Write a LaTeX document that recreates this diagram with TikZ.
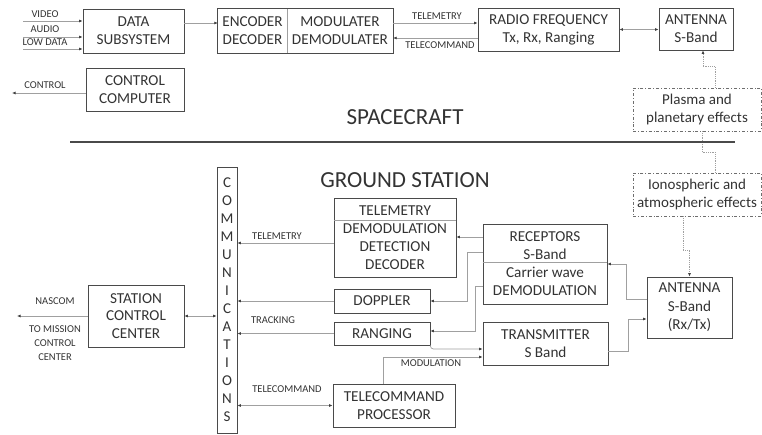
\documentclass[tikz,border=0pt]{standalone}
\usepackage{fontspec}
\setmainfont{Carlito}
\usetikzlibrary{arrows.meta}
\definecolor{txtgray}{HTML}{333333}
\definecolor{boxgray}{HTML}{4A4A4A}
\definecolor{linegray}{HTML}{A0A0A0}
\tikzset{
        box/.style={draw=boxgray, line width=0.8pt, inner sep=0pt, align=center, text=txtgray,
                font=\fontsize{15.2}{18}\selectfont},
        plain/.style={inner sep=0pt, align=center, text=txtgray, font=\fontsize{15.2}{18}\selectfont},
        lbl/.style={inner sep=0pt, align=center, text=txtgray, font=\fontsize{10.5}{14}\selectfont},
        conn/.style={draw=linegray, line width=0.7pt},
        tip/.style={-{Latex[length=3.5pt,width=3pt,color=black!75]}},
        bitip/.style={{Latex[length=3.5pt,width=3pt,color=black!75]}-{Latex[length=3.5pt,width=3pt,color=black!75]}},
        dotconn/.style={draw=linegray, line width=0.8pt, densely dotted},
        effect/.style={draw=boxgray!80, line width=0.6pt, dash pattern=on 3pt off 2pt on 0.8pt off 2pt,
                inner sep=0pt, align=center, text=txtgray, font=\fontsize{15}{18.5}\selectfont},
        divline/.style={draw=linegray, line width=0.6pt},
        heading/.style={inner sep=0pt, text=txtgray, font=\fontsize{23}{27}\selectfont}
}
\begin{document}
\begin{tikzpicture}[x=1pt, y=-1pt]
        \useasboundingbox (0,0) rectangle (762,435);
        % spacecraft
        \node[box, minimum width=101, minimum height=44] (datasub) at (133.5,31) {DATA\\SUBSYSTEM};
        \node[box, minimum width=98, minimum height=43] (ctrlcomp) at (135,89.5) {CONTROL\\COMPUTER};
        \node[plain, minimum width=69, minimum height=44] (enc) at (252.5,31) {ENCODER\\DECODER};
        \node[plain, minimum width=106, minimum height=44] (mod) at (340,31) {MODULATER\\DEMODULATER};
        \draw[boxgray, line width=0.8pt] (enc.north west) rectangle (mod.south east);
        \draw[divline] (enc.north east) -- (enc.south east);
        \node[box, minimum width=141, minimum height=43] (rf) at (548.5,29.5) {RADIO FREQUENCY\\Tx, Rx, Ranging};
        \node[box, minimum width=74, minimum height=42] (antsc) at (696,29) {ANTENNA\\S-Band};
        \node[effect, minimum width=128, minimum height=43] (plasma) at (697,109.5) {Plasma and\\planetary effects};
        \node[effect, minimum width=128, minimum height=43] (iono) at (697,194.5) {Ionospheric and\\atmospheric effects};

        \coordinate (vin) at (23,21);
        \coordinate (ain) at (23,37);
        \coordinate (lin) at (23,49);
        \coordinate (ctrlout) at (12,93);
        \draw[conn, tip] (vin) -- (vin -| datasub.west);
        \draw[conn, tip] (ain) -- (ain -| datasub.west);
        \draw[conn, tip] (lin) -- (lin -| datasub.west);
        \node[lbl] at (45,14) {VIDEO};
        \node[lbl, fill=white, inner sep=1pt] at (45,29) {AUDIO};
        \node[lbl, fill=white, inner sep=1pt] at (45,42) {LOW DATA};
        \draw[conn, tip] ([yshift=-3.5pt]ctrlcomp.west) -- (ctrlout);
        \node[lbl] at (45,85) {CONTROL};

        \draw[conn, tip] ([yshift=8pt]datasub.east) -- ([yshift=8pt]datasub.east -| enc.west);
        \draw[conn, tip] ([yshift=8pt]mod.east) -- ([yshift=8pt]mod.east -| rf.west);
        \draw[conn, tip] ([yshift=-7pt]mod.east -| rf.west) -- ([yshift=-7pt]mod.east);
        \node[lbl] at (437,16) {TELEMETRY};
        \node[lbl] at (440,45) {TELECOMMAND};
        \draw[conn, bitip] (rf.east) -- (rf.east -| antsc.west);

        \draw[dotconn, tip] ([xshift=18pt]plasma.north) -- ++(0,-21) -| ([xshift=7pt]antsc.south);
        \draw[dotconn] ([xshift=5pt]plasma.south) -- ++(0,21) -| ([xshift=18pt]iono.north);

        \coordinate (sepl) at (70,142);
        \coordinate (sepr) at (735,142);
        \draw[boxgray, line width=2.6pt] (sepl) -- (sepr);
        \node[heading] (sctitle) at (405,117) {SPACECRAFT};
        \node[heading] (gstitle) at (405,180) {GROUND STATION};

        % ground station
        \node[box, minimum width=20, minimum height=266, font=\fontsize{15}{18}\selectfont] (comm) at (227,300)
                {C\\O\\M\\M\\U\\N\\I\\C\\A\\T\\I\\O\\N\\S};
        \node[box, minimum width=122, minimum height=79] (tlm) at (395,237.5) {TELEMETRY\\DEMODULATION\\DETECTION\\DECODER};
        \draw[divline] ([yshift=-23pt]tlm.north west) -- ([yshift=-23pt]tlm.north east);
        \node[box, minimum width=124, minimum height=80] (recep) at (545,264) {RECEPTORS\\S-Band\\Carrier wave\\DEMODULATION};
        \draw[divline] ([yshift=-39pt]recep.north west) -- ([yshift=-39pt]recep.north east);
        \node[box, minimum width=96, minimum height=24] (doppler) at (382,301) {DOPPLER};
        \node[box, minimum width=96, minimum height=23] (ranging) at (382,333.5) {RANGING};
        \node[box, minimum width=125, minimum height=43] (trans) at (545.5,343.5) {TRANSMITTER\\S Band};
        \node[box, minimum width=122, minimum height=43] (tcproc) at (394,405.5) {TELECOMMAND\\PROCESSOR};
        \node[box, minimum width=96, minimum height=62, font=\fontsize{15.2}{17.5}\selectfont] (station) at (136,316)
                {STATION\\CONTROL\\CENTER};
        \node[box, minimum width=85, minimum height=61, font=\fontsize{15.2}{18.5}\selectfont] (antgs) at (689.5,307.5)
                {ANTENNA\\S-Band\\(Rx/Tx)};

        \draw[dotconn, tip] ([xshift=-14pt]iono.south) -- ++(0,34) -| (antgs.north);

        \draw[conn, tip] ([yshift=-5.5pt]tlm.west) -- ([yshift=-5.5pt]tlm.west -| comm.east);
        \node[lbl] at (277,236) {TELEMETRY};
        \draw[conn, tip] (doppler.west) -- (doppler.west -| comm.east);
        \draw[conn, tip] (ranging.west) -- (ranging.west -| comm.east);
        \node[lbl] at (273,320) {TRACKING};
        \draw[conn, bitip] (tcproc.west -| comm.east) -- (tcproc.west);
        \node[lbl] at (287,389) {TELECOMMAND};

        \draw[conn, tip] ([yshift=27pt]recep.west) -- ([yshift=27pt]recep.west -| tlm.east);
        \draw[conn, tip] ([yshift=12pt]recep.west) -- ++(-15,0) |- (doppler.east);
        \draw[conn, tip] ([yshift=-22pt]recep.west) -- ++(-7,0) |- ([yshift=2.5pt]ranging.east);
        \draw[conn, tip, rounded corners=3pt] (ranging.south east) |- ([yshift=-5.5pt]trans.west);
        \draw[conn, tip] ([xshift=-11pt]tcproc.north) |- ([yshift=-13.5pt]trans.west);
        \node[lbl] at (431,363) {MODULATION};

        \draw[conn, tip] ([yshift=8.5pt]antgs.west) -- ++(-20,0) |- (recep.east);
        \draw[conn, tip] ([yshift=-7.5pt]trans.east) -- ++(20,0) |- ([yshift=-11.5pt]antgs.west);

        \coordinate (nasout) at (17,316);
        \draw[conn, bitip] (station.east) -- (station.east -| comm.west);
        \draw[conn, tip] (station.west) -- (nasout);
        \node[lbl] at (55,301) {NASCOM};
        \node[lbl] at (55,343) {TO MISSION\\CONTROL\\CENTER};
\end{tikzpicture}
\end{document}
